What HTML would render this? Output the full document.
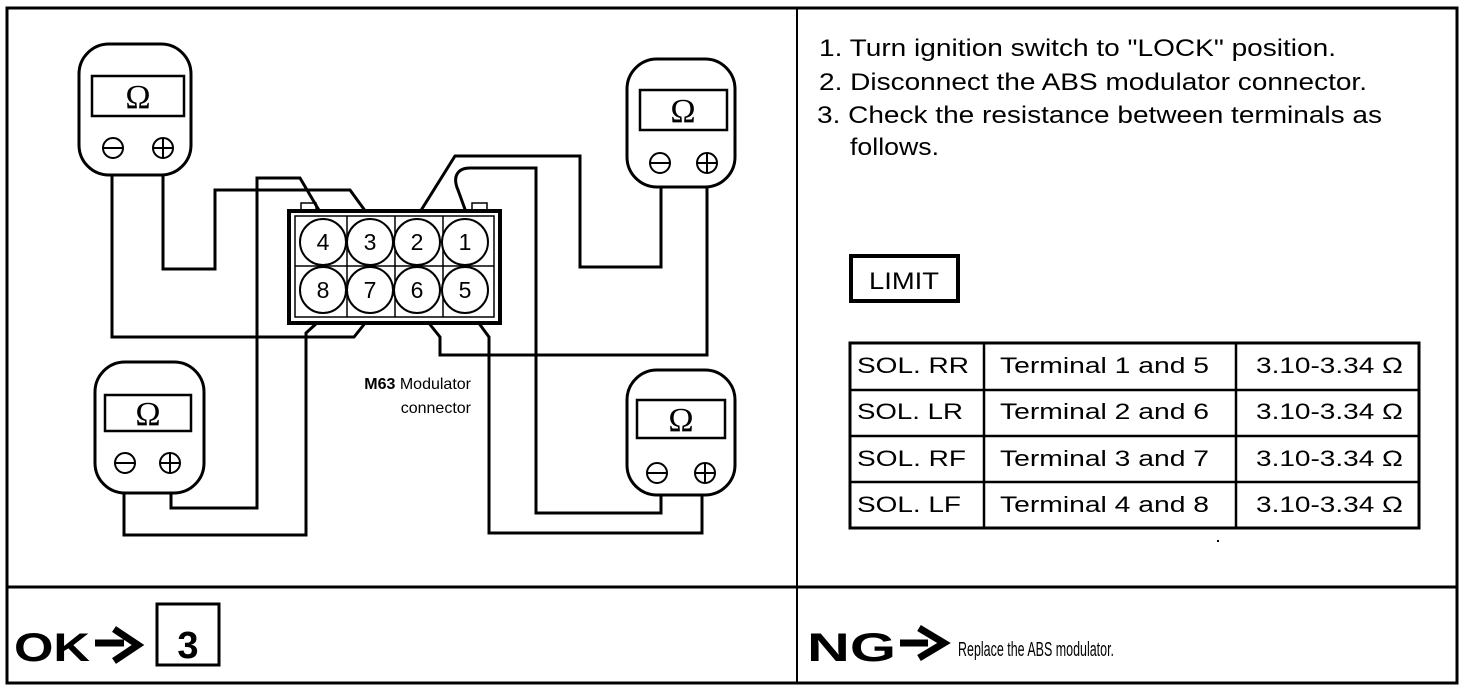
<!DOCTYPE html>
<html><head><meta charset="utf-8"><style>
html,body{margin:0;padding:0;background:#fff;}
svg{display:block;}
text{font-family:"Liberation Sans",sans-serif;fill:#000;}
</style></head><body>
<svg width="1472" height="692" viewBox="0 0 1472 692" xmlns="http://www.w3.org/2000/svg">
<g fill="none" stroke="#000">
<rect x="7" y="8" width="1450" height="675" stroke-width="3"/>
<line x1="797" y1="8" x2="797" y2="683" stroke-width="2"/>
<line x1="7" y1="587" x2="1457" y2="587" stroke-width="3"/>

<g stroke-width="3">
<rect x="79" y="44" width="112" height="131" rx="30"/>
<rect x="627" y="59" width="108" height="128" rx="30"/>
<rect x="95" y="362" width="109" height="131" rx="30"/>
<rect x="627" y="370" width="108" height="125" rx="30"/>
</g>
<g stroke-width="2.5">
<rect x="92" y="76" width="92" height="40"/>
<rect x="640" y="90" width="87" height="40"/>
<rect x="105" y="395" width="86" height="36"/>
<rect x="637" y="400" width="88" height="38"/>
</g>
<g stroke-width="2">
<circle cx="113" cy="148" r="10"/><line x1="103" y1="148" x2="123" y2="148"/>
<circle cx="163" cy="148" r="10"/><line x1="153" y1="148" x2="173" y2="148"/><line x1="163" y1="138" x2="163" y2="158"/>
<circle cx="660" cy="163" r="10"/><line x1="650" y1="163" x2="670" y2="163"/>
<circle cx="707" cy="163" r="10"/><line x1="697" y1="163" x2="717" y2="163"/><line x1="707" y1="153" x2="707" y2="173"/>
<circle cx="125" cy="463" r="10"/><line x1="115" y1="463" x2="135" y2="463"/>
<circle cx="170" cy="463" r="10"/><line x1="160" y1="463" x2="180" y2="463"/><line x1="170" y1="453" x2="170" y2="473"/>
<circle cx="657" cy="473" r="10"/><line x1="647" y1="473" x2="667" y2="473"/>
<circle cx="705" cy="473" r="10"/><line x1="695" y1="473" x2="715" y2="473"/><line x1="705" y1="463" x2="705" y2="483"/>
</g>

<rect x="289" y="211" width="211" height="112" stroke-width="4"/>
<rect x="295" y="216" width="199" height="101" stroke-width="1.5"/>
<g stroke-width="1.5">
<line x1="347" y1="216" x2="347" y2="317"/><line x1="395" y1="216" x2="395" y2="317"/><line x1="443" y1="216" x2="443" y2="317"/>
<line x1="295" y1="266" x2="494" y2="266"/>
<rect x="301" y="203" width="15" height="8"/><rect x="472" y="203" width="15" height="8"/>
</g>
<g stroke-width="2" fill="#fff">
<circle cx="323" cy="242" r="23"/><circle cx="370" cy="242" r="23"/><circle cx="417" cy="242" r="23"/><circle cx="465" cy="242" r="23"/>
<circle cx="323" cy="290" r="23"/><circle cx="370" cy="290" r="23"/><circle cx="417" cy="290" r="23"/><circle cx="465" cy="290" r="23"/>
</g>

<g stroke-width="3" stroke-linejoin="miter">
<polyline points="112,175 112,337 354,337 366,322"/>
<polyline points="163,175 163,269 215,269 215,190 350,190 366,212"/>
<polyline points="320,212 300,178 257,178 257,508 171,508 171,493"/>
<polyline points="124,493 124,535 306,535 306,333 318,322"/>
<polyline points="420,212 455,156 580,156 580,267 661,267 661,187"/>
<path d="M466,212 L458,190 C452,176 458,168 470,168 L536,168 L536,513 L661,513 L661,495"/>
<polyline points="428,322 440,337 440,355 707,355 707,187"/>
<polyline points="478,322 489,337 489,533 702,533 702,495"/>
</g>

<rect x="851" y="256" width="107" height="45" stroke-width="4"/>
<rect x="850" y="343" width="569" height="185" stroke-width="3"/>
<g stroke-width="2.5">
<line x1="984" y1="343" x2="984" y2="528"/>
<line x1="1236" y1="343" x2="1236" y2="528"/>
<line x1="850" y1="390" x2="1419" y2="390"/>
<line x1="850" y1="436" x2="1419" y2="436"/>
<line x1="850" y1="482" x2="1419" y2="482"/>
</g>
<rect x="157" y="604" width="62" height="61" stroke-width="3"/>
</g>
<rect x="1217" y="540" width="2" height="2" fill="#000"/>

<g font-size="34" text-anchor="middle">
<text x="138" y="108" style="font-family:'Liberation Serif',serif">Ω</text>
<text x="683" y="122" style="font-family:'Liberation Serif',serif">Ω</text>
<text x="148" y="425" style="font-family:'Liberation Serif',serif">Ω</text>
<text x="681" y="431" style="font-family:'Liberation Serif',serif">Ω</text>
</g>
<g font-size="23" text-anchor="middle">
<text x="323" y="250">4</text><text x="370" y="250">3</text><text x="417" y="250">2</text><text x="465" y="250">1</text>
<text x="323" y="298">8</text><text x="370" y="298">7</text><text x="417" y="298">6</text><text x="465" y="298">5</text>
</g>
<text x="471" y="389" font-size="16" text-anchor="end"><tspan font-weight="bold">M63</tspan> Modulator</text>
<text x="471" y="413" font-size="16" text-anchor="end">connector</text>

<g font-size="24">
<text x="819" y="56" textLength="517" lengthAdjust="spacingAndGlyphs">1. Turn ignition switch to "LOCK" position.</text>
<text x="819" y="90" textLength="548" lengthAdjust="spacingAndGlyphs">2. Disconnect the ABS modulator connector.</text>
<text x="817" y="123" textLength="565" lengthAdjust="spacingAndGlyphs">3. Check the resistance between terminals as</text>
<text x="850" y="155" textLength="89" lengthAdjust="spacingAndGlyphs">follows.</text>
<text x="869" y="289" textLength="70" lengthAdjust="spacingAndGlyphs">LIMIT</text>
</g>
<g font-size="22">
<text x="857" y="373" textLength="112" lengthAdjust="spacingAndGlyphs">SOL. RR</text>
<text x="857" y="419" textLength="106" lengthAdjust="spacingAndGlyphs">SOL. LR</text>
<text x="857" y="466" textLength="109" lengthAdjust="spacingAndGlyphs">SOL. RF</text>
<text x="857" y="512" textLength="104" lengthAdjust="spacingAndGlyphs">SOL. LF</text>
<text x="1000" y="373" textLength="209" lengthAdjust="spacingAndGlyphs">Terminal 1 and 5</text>
<text x="1000" y="419" textLength="209" lengthAdjust="spacingAndGlyphs">Terminal 2 and 6</text>
<text x="1000" y="466" textLength="209" lengthAdjust="spacingAndGlyphs">Terminal 3 and 7</text>
<text x="1000" y="512" textLength="209" lengthAdjust="spacingAndGlyphs">Terminal 4 and 8</text>
<text x="1256" y="373" textLength="147" lengthAdjust="spacingAndGlyphs">3.10-3.34 Ω</text>
<text x="1256" y="419" textLength="147" lengthAdjust="spacingAndGlyphs">3.10-3.34 Ω</text>
<text x="1256" y="466" textLength="147" lengthAdjust="spacingAndGlyphs">3.10-3.34 Ω</text>
<text x="1256" y="512" textLength="147" lengthAdjust="spacingAndGlyphs">3.10-3.34 Ω</text>
</g>

<text x="14" y="661" font-size="40" font-weight="bold" textLength="76" lengthAdjust="spacingAndGlyphs">OK</text>
<path d="M95,643 H124 M114,629 L138,645 L114,661" stroke="#000" stroke-width="7" fill="none"/>
<text x="188" y="658" font-size="38" font-weight="bold" text-anchor="middle">3</text>
<text x="807" y="661" font-size="40" font-weight="bold" textLength="89" lengthAdjust="spacingAndGlyphs">NG</text>
<path d="M900,643 H928 M919,628 L944,643 L919,658" stroke="#000" stroke-width="7" fill="none"/>
<text x="958" y="656" font-size="20" textLength="156" lengthAdjust="spacingAndGlyphs">Replace the ABS modulator.</text>
</svg>
</body></html>
